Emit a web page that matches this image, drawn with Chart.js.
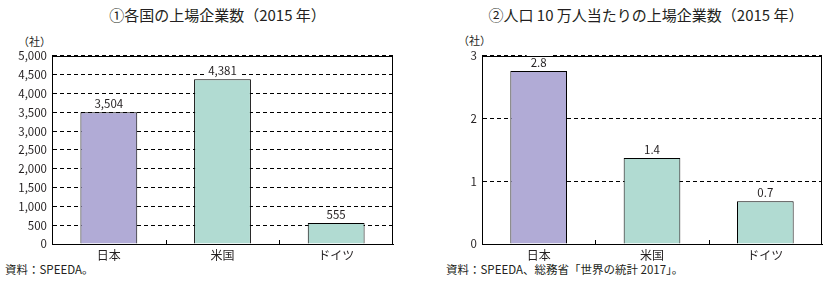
<!DOCTYPE html>
<html>
<head>
<meta charset="utf-8">
<script src="https://cdn.jsdelivr.net/npm/chart.js@4/dist/chart.umd.min.js"></script>
<style>
	body{margin:0;background:#fff;width:831px;height:284px;position:relative;overflow:hidden;
		font-family:"Noto Sans CJK JP","Noto Sans",sans-serif;color:#231f20}
	.t{position:absolute;white-space:nowrap;line-height:1}
	canvas{position:absolute}
</style>
</head>
<body>
<div class="t" style="left:0;width:435px;top:7px;text-align:center;font-size:15px">①各国の上場企業数（2015 年）</div>
<div class="t" style="left:430px;width:432px;top:7px;text-align:center;font-size:15px">②人口 10 万人当たりの上場企業数（2015 年）</div>
<div class="t" style="left:18px;top:36px;font-size:11px">（社）</div>
<div class="t" style="left:458px;top:35px;font-size:11px">（社）</div>
<div class="t" style="left:5px;top:264px;font-size:11.5px">資料：SPEEDA。</div>
<div class="t" style="left:446px;top:264px;font-size:11.5px">資料：SPEEDA、総務省「世界の統計 2017」。</div>
<canvas id="c1" width="400" height="220" style="left:0;top:44px"></canvas>
<canvas id="c2" width="411" height="220" style="left:420px;top:44px"></canvas>
<script>
// data
var countries = ['日本', '米国', 'ドイツ'];
var listedCompanies = [3504, 4381, 555];
var per100k = [2.76, 1.37, 0.68];
var barColors = ['#b1abd6', '#b1dbd2', '#b1dbd2'];

var font = '"Noto Sans CJK JP","Noto Sans",sans-serif';

// frame box, value labels and little ticks between the categories
var extras = {
	id: 'extras',
	afterDatasetsDraw(chart, args, opts){
		var c = chart.ctx, a = chart.chartArea, xs = chart.scales.x;
		c.save();
		c.font = '11.5px ' + font;
		c.textAlign = 'center';
		c.textBaseline = 'bottom';
		chart.getDatasetMeta(0).data.forEach((bar, i)=>{
			var txt = opts.fmt(chart.data.datasets[0].data[i]);
			var w = c.measureText(txt).width;
			c.fillStyle = '#fff';
			c.fillRect(bar.x-w/2-4, bar.y-16, w+8, 13);
			c.fillStyle = '#231f20';
			c.fillText(txt, bar.x, bar.y-3);
		});
		c.strokeStyle = '#000';
		c.lineWidth = 1;
		c.setLineDash([]);
		c.strokeRect(Math.round(a.left)+0.5, Math.round(a.top)+0.5, Math.round(a.right-a.left)-1, Math.round(a.bottom-a.top));
		for(var i = 0; i < countries.length-1; i++){
			var x = Math.round((xs.getPixelForValue(i)+xs.getPixelForValue(i+1))/2)+0.5;
			c.beginPath();
			c.moveTo(x, a.bottom);
			c.lineTo(x, a.bottom-4);
			c.stroke();
		}
		c.restore();
	}
};

function makeChart(id, values, max, step, yWidth, padRight, fmt){
	return new Chart(document.getElementById(id), {
		type: 'bar',
		data: {
			labels: countries,
			datasets: [{
				data: values,
				backgroundColor: barColors,
				borderColor: '#000',
				borderWidth: 1,
				barPercentage: 0.5,
				categoryPercentage: 1
			}]
		},
		options: {
			responsive: false,
			animation: false,
			devicePixelRatio: 1,
			layout: {padding: {top: 10, right: padRight, left: 0, bottom: 0}},
			plugins: {legend: {display: false}, tooltip: {enabled: false}, extras: {fmt: fmt}},
			scales: {
				x: {
					grid: {display: false, drawTicks: false},
					border: {display: true, color: '#000'},
					ticks: {color: '#231f20', font: {family: font, size: 12}, padding: 4},
					afterFit(s){ s.height = 20; }
				},
				y: {
					min: 0, max: max,
					grid: {color: '#000', lineWidth: 1, drawTicks: false},
					border: {display: true, color: '#000', dash: [4, 3]},
					ticks: {
						stepSize: step,
						color: '#231f20',
						font: {family: font, size: 11.5},
						padding: 5,
						callback: v => v.toLocaleString('en-US')
					},
					afterFit(s){ s.width = yWidth; }
				}
			}
		},
		plugins: [extras]
	});
}

makeChart('c1', listedCompanies, 5000, 500, 52, 7, v => v.toLocaleString('en-US'));
makeChart('c2', per100k, 3, 1, 62, 9, v => v.toFixed(1));
</script>
</body>
</html>
